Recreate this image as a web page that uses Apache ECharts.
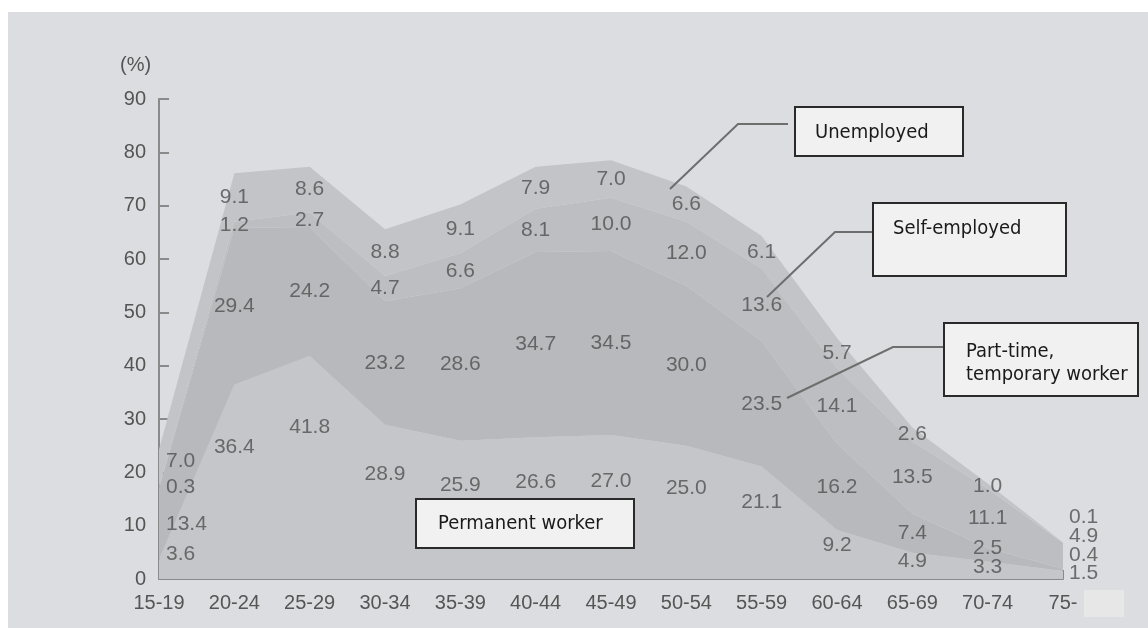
<!DOCTYPE html>
<html>
<head>
    <meta charset="utf-8" />
    <script src="https://cdn.jsdelivr.net/npm/echarts@6/dist/echarts.min.js"></script>
    <title></title>
    <style>
        html, body { margin: 0; padding: 0; background: #fff; }
    </style>
</head>
<body>
    <div id="main" style="width: 1148px;height:628px;"></div>
</body>
</html>
<script>
    // age groups and share of each employment type (%)
    var ages = ['15-19', '20-24', '25-29', '30-34', '35-39', '40-44', '45-49', '50-54', '55-59', '60-64', '65-69', '70-74', '75-'];
    var permanent = [3.6, 36.4, 41.8, 28.9, 25.9, 26.6, 27.0, 25.0, 21.1, 9.2, 4.9, 3.3, 1.5];
    var partTime = [13.4, 29.4, 24.2, 23.2, 28.6, 34.7, 34.5, 30.0, 23.5, 16.2, 7.4, 2.5, 0.4];
    var selfEmployed = [0.3, 1.2, 2.7, 4.7, 6.6, 8.1, 10.0, 12.0, 13.6, 14.1, 13.5, 11.1, 4.9];
    var unemployed = [7.0, 9.1, 8.6, 8.8, 9.1, 7.9, 7.0, 6.6, 6.1, 5.7, 2.6, 1.0, 0.1];
    var yMin = 0, yMax = 90, yStep = 10;

    var layers = [permanent, partTime, selfEmployed, unemployed];
    var colors = ['#c5c6c9', '#b8b9bc', '#bdbec1', '#c3c4c7'];
    var names = ['Permanent worker', 'Part-time, temporary worker', 'Self-employed', 'Unemployed'];
    var numFont = '"Liberation Sans", Arimo, Arial, Helvetica, sans-serif';

    // value labels: placed inside each band, pushed apart where bands are thin
    var labelData = [[], [], [], []];
    for (var i = 0; i < ages.length; i++) {
        var base = 0, prev = -99;
        var first = i === 0;
        for (var k = 0; k < layers.length; k++) {
            var v = layers[k][i];
            var y = base + v * (k === 0 ? 0.68 : 0.5);
            // the first column sits beside a very narrow wedge, so it is spread wider
            var gap = first ? 5 : 3.5;
            if (first && k === 0) y = base + v * 1.3;
            if (y < prev + gap) y = prev + gap;
            prev = y;
            base += v;
            var item = { value: [i, y, v] };
            if (first) item.label = { align: 'left', offset: [7, 0] };
            if (i === ages.length - 1) item.label = { align: 'left', offset: [6, 0] };
            labelData[k].push(item);
        }
    }

    var chart = echarts.init(document.getElementById('main'));
    var series = [];
    for (var k = 0; k < layers.length; k++) {
        series.push({
            name: names[k],
            type: 'line',
            stack: 'all',
            data: layers[k],
            symbol: 'none',
            lineStyle: { width: 0 },
            areaStyle: { color: colors[k], opacity: 1 },
            z: 2
        });
    }
    for (var k = 0; k < layers.length; k++) {
        series.push({
            type: 'scatter',
            data: labelData[k],
            symbolSize: 0,
            silent: true,
            z: 5,
            label: {
                show: true,
                position: 'inside',
                color: '#505050',
                fontSize: 21,
                fontFamily: numFont,
                formatter: function (p) { return p.value[2].toFixed(1); }
            }
        });
    }

    var boxFont = '20px "DejaVu Sans Condensed", "DejaVu Sans", sans-serif';
    function box(x, y, w, h, text, tx, ty) {
        return [
            { type: 'rect', z: 100, shape: { x: x, y: y, width: w, height: h },
              style: { fill: '#f1f1f1', stroke: '#2a2a2a', lineWidth: 2 } },
            { type: 'text', z: 101, x: tx, y: ty,
              style: { text: text, font: boxFont, fill: '#1a1a1a', verticalAlign: 'middle', lineHeight: 23 } }
        ];
    }
    function leader(pts) {
        return { type: 'polyline', z: 100, shape: { points: pts },
                 style: { stroke: '#6e6e6e', lineWidth: 2, fill: null } };
    }

    var graphics = [
        { type: 'rect', z: -10, shape: { x: 8, y: 12, width: 1140, height: 616 }, style: { fill: '#dcdde0' } },
        { type: 'rect', z: 100, shape: { x: 1084, y: 590, width: 40, height: 27 }, style: { fill: '#e7e7e8' } },
        { type: 'text', z: 100, x: 120, y: 65,
          style: { text: '(%)', font: '20px ' + numFont, fill: '#555', verticalAlign: 'middle' } },
        leader([[670, 189], [738, 124], [788, 124]]),
        leader([[767, 297], [835, 232], [873, 232]]),
        leader([[787, 398], [893, 347], [944, 347]])
    ];
    graphics = graphics
        .concat(box(795, 107, 168, 49, 'Unemployed', 815, 133))
        .concat(box(873, 203, 193, 73, 'Self-employed', 893, 229))
        .concat(box(944, 323, 194, 73, 'Part-time,\ntemporary worker', 966, 363))
        .concat(box(416, 499, 218, 49, 'Permanent worker', 438, 524));

    option = {
        backgroundColor: 'transparent',
        animation: false,
        grid: { left: 159, right: 85, top: 99, bottom: 49 },
        xAxis: {
            type: 'category',
            data: ages,
            boundaryGap: false,
            axisLine: { lineStyle: { color: '#8a8a8a', width: 2 } },
            axisTick: { inside: true, length: 9, lineStyle: { color: '#8a8a8a', width: 2 } },
            axisLabel: { color: '#555', fontSize: 20, fontFamily: numFont, margin: 14 },
            splitLine: { show: false }
        },
        yAxis: {
            type: 'value',
            min: yMin,
            max: yMax,
            interval: yStep,
            axisLine: { show: true, lineStyle: { color: '#8a8a8a', width: 2 } },
            axisTick: { show: true, inside: true, length: 10, lineStyle: { color: '#8a8a8a', width: 2 } },
            axisLabel: { color: '#555', fontSize: 20, fontFamily: numFont, margin: 13 },
            splitLine: { show: false }
        },
        graphic: graphics,
        series: series
    };

    chart.setOption(option);
</script>
